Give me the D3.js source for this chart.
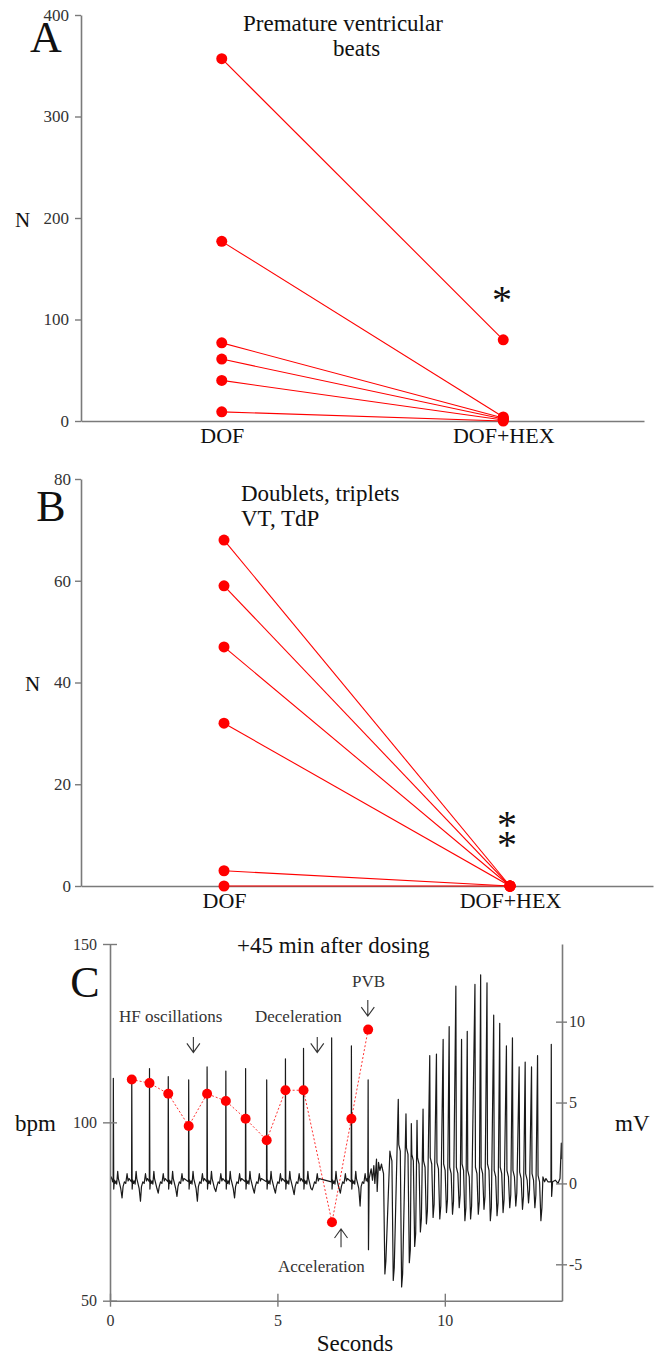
<!DOCTYPE html>
<html><head><meta charset="utf-8">
<script src="https://cdn.jsdelivr.net/npm/d3@7"></script>
<style>
body{margin:0;background:#fff;}
svg{display:block;}
text{font-family:"Liberation Serif","Times New Roman",serif;}
</style>
</head><body>
<svg id="chart" width="658" height="1358"></svg>
<script>
// ---------- DATA ----------
const groups = ["DOF", "DOF+HEX"];
// Panel A: premature ventricular beats
const pvbDOF = [357, 177, 77, 61, 40, 9];
const pvbHEX = [80, 4, 3, 2, 1, 0];
const pvbTicks = [0, 100, 200, 300, 400];
// Panel B: doublets, triplets, VT, TdP
const arrDOF = [68, 59, 47, 32, 3, 0];
const arrHEX = [0, 0, 0, 0, 0, 0];
const arrTicks = [0, 20, 40, 60, 80];
// Panel C: heart rate (bpm) points
const hrTime = [0.65, 1.18, 1.74, 2.35, 2.90, 3.46, 4.05, 4.68, 5.24, 5.78, 6.63, 7.21, 7.71];
const hrBpm  = [112, 111, 108, 99, 108, 106, 101, 95, 109, 109, 72, 101, 126];
const bpmTicks = [50, 100, 150];
const mvTicks = [-5, 0, 5, 10];
const secTicks = [0, 5, 10];
// ECG: sinus beats (time s, R peak mV, T-trough mV)
const sinusT    = [0.10, 0.65, 1.18, 1.74, 2.35, 2.90, 3.46, 4.05, 4.68, 5.24, 5.78, 6.62, 7.21];
const sinusPeak = [6.5, 6.6, 7.1, 6.6, 6.4, 7.2, 6.95, 7.1, 6.4, 7.7, 8.35, 9.0, 8.5];
const sinusDip  = [-0.9, -1.1, -0.6, -0.8, -1.1, -0.5, -0.9, -0.6, -0.6, -0.7, -0.4, -0.6, -1.4];
// ECG: PVB and transition into VT (time s, mV)
const ecgPVB = [[7.70, 0.1], [7.71, 6.4], [7.72, -4.1], [7.74, 0.3], [7.80, 0.9], [7.84, 0.2], [7.88, 1.1],
                [7.91, 0.0], [7.96, 1.5], [7.98, -0.5], [8.02, 1.3], [8.06, 0.8]];
// ECG: VT / TdP beats (time s, top mV, bottom mV, hump mV)
const vtT      = [8.11, 8.36, 8.61, 8.84, 9.00, 9.17, 9.35, 9.55, 9.75, 9.95, 10.13, 10.33, 10.50, 10.67, 10.90, 11.07, 11.26, 11.46, 11.64, 11.84, 12.02, 12.22, 12.40, 12.59, 12.77];
const vtTop    = [1.2, 2.0, 5.2, 4.3, 3.7, 3.9, 4.6, 7.9, 8.0, 8.9, 9.7, 12.2, 8.9, 9.4, 12.3, 12.9, 12.4, 10.4, 9.9, 8.5, 9.0, 7.2, 7.5, 7.2, 7.9];
const vtBottom = [-5.6, -6.0, -6.4, -4.9, -3.9, -3.0, -2.5, -2.1, -2.2, -1.8, -1.9, -1.5, -2.3, -2.2, -1.9, -1.6, -2.3, -2.0, -1.8, -1.5, -1.4, -1.6, -1.2, -1.5, -2.3];
const vtHump   = [1.0, 1.8, 2.4, 2.2, 1.8, 1.6, 1.4, 1.6, 1.3, 1.2, 1.0, 1.0, 1.2, 0.8, 1.0, 1.0, 1.2, 0.8, 1.0, 0.8, 0.8, 0.7, 0.6, 0.6, 0.5];
// ECG: return to sinus rhythm at the end
const ecgTail = [[12.90, -1.5], [12.93, 0.4], [12.98, 0.1], [13.02, 0.3], [13.08, 0.1], [13.17, 0.1], [13.18, 8.6],
                 [13.19, -0.8], [13.22, 0.1], [13.30, 0.2], [13.38, 0.0], [13.44, 0.3], [13.48, 2.5], [13.50, 1.5]];

// ---------- DRAW ----------
const svg = d3.select("#chart");
const AX = "#7a7a7a", TXT = "#333", RED = "#ff0000";

function pairPanel(o) {
  const g = svg.append("g");
  const y = d3.scaleLinear().domain(o.domain).range(o.yRange);
  const x = d3.scalePoint().domain(groups).range(o.xRange).padding(0.5);
  const ya = g.append("g").attr("transform", `translate(${o.xRange[0]},0)`)
    .call(d3.axisLeft(y).tickValues(o.ticks).tickSize(6).tickSizeOuter(0).tickPadding(o.pad));
  ya.select(".domain").attr("stroke", AX).attr("stroke-width", 1.6);
  ya.selectAll(".tick line").attr("stroke", AX).attr("stroke-width", 1.4);
  ya.selectAll(".tick text").attr("fill", TXT).style("font-size", "17px").style("font-family", "Liberation Serif");
  const xa = g.append("g").attr("transform", `translate(0,${o.yRange[0]})`)
    .call(d3.axisBottom(x).tickSize(0).tickSizeOuter(0).tickPadding(0));
  xa.select(".domain").attr("stroke", AX).attr("stroke-width", 1.6);
  xa.selectAll(".tick text").attr("fill", "#111").attr("dy", null).attr("y", o.catDy)
    .style("font-size", "22px").style("font-family", "Liberation Serif");
  const pairs = o.a.map((v, i) => [v, o.b[i]]);
  g.selectAll(".pl").data(pairs).join("line")
    .attr("x1", x(groups[0])).attr("x2", x(groups[1]))
    .attr("y1", d => y(d[0])).attr("y2", d => y(d[1]))
    .attr("stroke", RED).attr("stroke-width", 1.1);
  g.selectAll(".pa").data(o.a).join("circle").attr("cx", x(groups[0])).attr("cy", d => y(d)).attr("r", 5.5).attr("fill", RED);
  g.selectAll(".pb").data(o.b).join("circle").attr("cx", x(groups[1])).attr("cy", d => y(d)).attr("r", 5.5).attr("fill", RED);
  return g;
}

const gA = pairPanel({domain: [0, 400], yRange: [421, 15], xRange: [81, 644], ticks: pvbTicks, pad: 6, a: pvbDOF, b: pvbHEX, catDy: 22});
gA.append("text").attr("x", 46).attr("y", 52).attr("text-anchor", "middle").style("font-size", "44px").attr("fill", "#111").text("A");
gA.append("text").attr("x", 15).attr("y", 227).style("font-size", "21px").attr("fill", "#111").text("N");
gA.append("text").attr("x", 243).attr("y", 31).style("font-size", "23px").attr("fill", "#111").text("Premature ventricular");
gA.append("text").attr("x", 333).attr("y", 56).style("font-size", "23px").attr("fill", "#111").text("beats");
gA.append("text").attr("x", 502).attr("y", 313).attr("text-anchor", "middle").style("font-size", "40px").attr("fill", "#111").text("*");

const gB = pairPanel({domain: [0, 80], yRange: [886, 479], xRange: [81, 653], ticks: arrTicks, pad: 4, a: arrDOF, b: arrHEX, catDy: 22});
gB.append("text").attr("x", 51).attr("y", 521).attr("text-anchor", "middle").style("font-size", "44px").attr("fill", "#111").text("B");
gB.append("text").attr("x", 25).attr("y", 691).style("font-size", "21px").attr("fill", "#111").text("N");
gB.append("text").attr("x", 241).attr("y", 501).style("font-size", "23px").attr("fill", "#111").text("Doublets, triplets");
gB.append("text").attr("x", 241).attr("y", 526).style("font-size", "23px").attr("fill", "#111").text("VT, TdP");
const ast = gB.append("text").attr("text-anchor", "middle").style("font-size", "40px").attr("fill", "#111");
ast.append("tspan").attr("x", 507).attr("y", 838).text("*");
ast.append("tspan").attr("x", 507).attr("y", 858).text("*");

// ---------- Panel C ----------
const gC = svg.append("g");
const xs = d3.scaleLinear().domain([0, 13.5]).range([110, 562]);
const yb = d3.scaleLinear().domain([50, 150]).range([1300.7, 944]);
const ym = d3.scaleLinear().domain([-7.25, 14.8]).range([1300.7, 944]);

// build ECG polyline from the read beat values (waveform template between beats)
const sinusShape = [[0.012, -0.35], [0.03, 0.2], [0.05, 0.0], [0.08, 0.15], [0.10, -0.05], [0.13, 0.75], [0.15, 0.3], [0.18, 0.05],
                    [0.22, -0.3], [0.26, null], [0.29, -0.2], [0.33, 0.1], [0.37, 0.0], [0.41, 0.6], [0.44, 0.15], [0.47, 0.3]];
const ecg = [[0, 0.2], [0.04, 0.4], [0.08, 0.1]];
sinusT.forEach((t, i) => {
  ecg.push([t - 0.006, 0.1], [t, sinusPeak[i]]);
  sinusShape.forEach(([dt, v]) => ecg.push([t + dt, v === null ? sinusDip[i] : v]));
});
ecgPVB.forEach(p => ecg.push(p));
vtT.forEach((t, i) => {
  ecg.push([t, vtTop[i]], [t + 0.015, vtHump[i]], [t + 0.06, vtHump[i] - 0.4], [t + 0.10, vtBottom[i]], [t + 0.13, vtBottom[i] + 0.8]);
});
ecgTail.forEach(p => ecg.push(p));

gC.append("clipPath").attr("id", "cclip").append("rect").attr("x", 110).attr("y", 930).attr("width", 452).attr("height", 380);
gC.append("path").datum(ecg).attr("clip-path", "url(#cclip)")
  .attr("d", d3.line().x(d => xs(d[0])).y(d => ym(d[1])))
  .attr("fill", "none").attr("stroke", "#1a1a1a").attr("stroke-width", 1.2).attr("stroke-linejoin", "round");

// axes
const la = gC.append("g").attr("transform", "translate(110,0)")
  .call(d3.axisLeft(yb).tickValues(bpmTicks).tickSize(7).tickSizeOuter(0).tickPadding(6));
la.selectAll(".tick line").attr("x1", 7);
const ra = gC.append("g").attr("transform", "translate(562,0)")
  .call(d3.axisRight(ym).tickValues(mvTicks).tickFormat(d => String(d)).tickSize(5).tickSizeOuter(0).tickPadding(2));
ra.selectAll(".tick line").attr("x1", -6);
const ba = gC.append("g").attr("transform", "translate(0,1300.7)")
  .call(d3.axisBottom(xs).tickValues(secTicks).tickSize(6).tickSizeOuter(0).tickPadding(8));
ba.selectAll(".tick line").attr("y1", -7);
[la, ra, ba].forEach(a => {
  a.select(".domain").attr("stroke", AX).attr("stroke-width", 1.6);
  a.selectAll(".tick line").attr("stroke", AX).attr("stroke-width", 1.4);
  a.selectAll(".tick text").attr("fill", TXT).style("font-size", "16px").style("font-family", "Liberation Serif");
});

// heart rate
const hr = hrTime.map((t, i) => [t, hrBpm[i]]);
gC.append("path").datum(hr).attr("d", d3.line().x(d => xs(d[0])).y(d => yb(d[1])))
  .attr("fill", "none").attr("stroke", RED).attr("stroke-width", 1).attr("stroke-dasharray", "2,2").attr("opacity", 0.8);
gC.selectAll(".hr").data(hr).join("circle").attr("cx", d => xs(d[0])).attr("cy", d => yb(d[1])).attr("r", 5).attr("fill", RED);

// labels
gC.append("text").attr("x", 85).attr("y", 997).attr("text-anchor", "middle").style("font-size", "44px").attr("fill", "#111").text("C");
gC.append("text").attr("x", 237).attr("y", 953).style("font-size", "23px").attr("fill", "#111").text("+45 min after dosing");
gC.append("text").attr("x", 15).attr("y", 1131).style("font-size", "23px").attr("fill", "#111").text("bpm");
gC.append("text").attr("x", 615).attr("y", 1131).style("font-size", "23px").attr("fill", "#111").text("mV");
gC.append("text").attr("x", 355).attr("y", 1351).attr("text-anchor", "middle").style("font-size", "23px").attr("fill", "#111").text("Seconds");
const ann = [
  {text: "HF oscillations", x: 119, y: 1022},
  {text: "Deceleration", x: 255, y: 1022},
  {text: "PVB", x: 352, y: 987},
  {text: "Acceleration", x: 278, y: 1272}
];
gC.selectAll(".ann").data(ann).join("text").attr("x", d => d.x).attr("y", d => d.y)
  .style("font-size", "17px").attr("fill", TXT).text(d => d.text);
// arrows: time (s), tail bpm, tip bpm
const arrows = [
  {t: 2.49, tail: 123.9, tip: 119.6},
  {t: 6.19, tail: 123.9, tip: 119.6},
  {t: 7.70, tail: 134.3, tip: 129.8},
  {t: 6.90, tail: 65.0, tip: 70.1}
];
arrows.forEach(a => {
  const x0 = xs(a.t), y0 = yb(a.tail), y1 = yb(a.tip);
  const dir = y1 > y0 ? 1 : -1;
  gC.append("path")
    .attr("d", `M${x0},${y0}L${x0},${y1}M${x0 - 6.5},${y1 - dir * 9}L${x0},${y1}L${x0 + 6.5},${y1 - dir * 9}`)
    .attr("fill", "none").attr("stroke", "#333").attr("stroke-width", 1.1);
});
</script>
</body></html>
